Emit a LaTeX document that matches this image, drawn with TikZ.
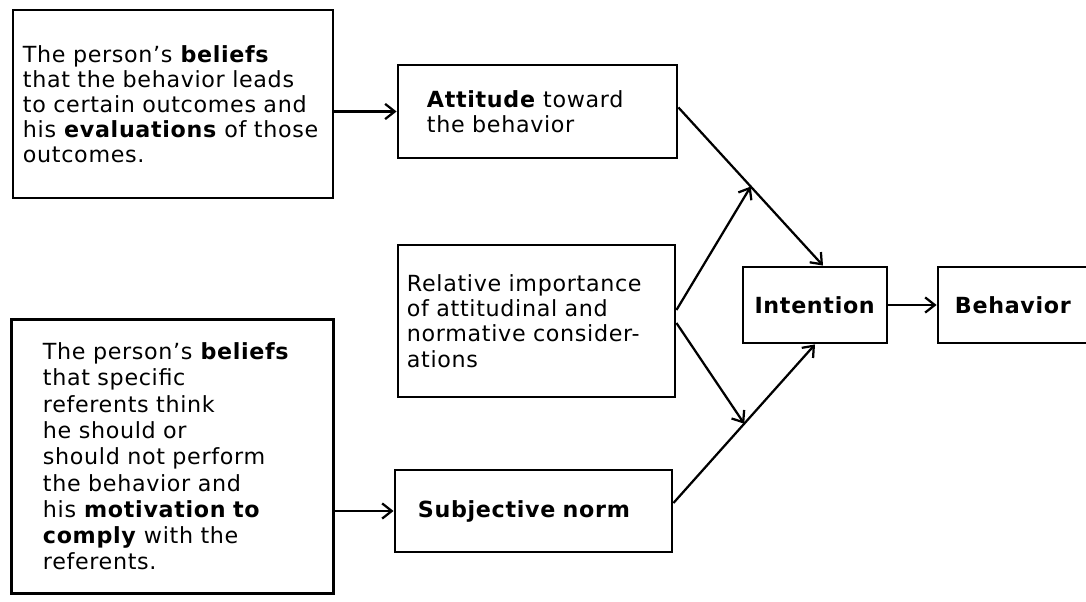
\documentclass[tikz,border=0pt]{standalone}
\usepackage{fontspec}
\setmainfont{DejaVu Sans}[LetterSpace=3]
\usetikzlibrary{positioning,arrows.meta,calc}

\tikzset{
  box/.style={draw,line width=2pt,inner sep=0pt,align=left,
              font=\fontsize{15.8}{17.8}\selectfont},
  link/.style={line width=1.6pt,-{Straight Barb[length=2.4mm,width=3.8mm]}},
}

\begin{document}
\begin{tikzpicture}[x=0.025cm,y=-0.025cm]
    \clip (0,0) rectangle (1086,602);
    % source boxes
    \node[box,minimum width=8cm,minimum height=4.7cm,text width=7.5cm]
      (beliefsA) at (173,104)
      {The person’s \textbf{beliefs}\\ that the behavior leads\\
       to certain outcomes and\\ \mbox{his \textbf{evaluations} of those}\\ outcomes.};
    \node[box,minimum width=8.03cm,minimum height=6.83cm,text width=6.475cm,
          font=\fontsize{15.8}{18.7}\selectfont]
      (beliefsB) at (172.5,456.5)
      {The person’s \textbf{beliefs}\\ that specific\\ referents think\\
       he should or\\ should not perform\\ the behavior and\\
       his \textbf{motivation to}\\ \textbf{comply} with the\\ referents.};
    % middle column
    \node[box,minimum width=6.975cm,minimum height=2.325cm,text width=5.525cm]
      (attitude) at (537.5,111.5) {\textbf{Attitude} toward\\ the behavior};
    \node[box,minimum width=6.925cm,minimum height=3.8cm,text width=6.475cm,
          font=\fontsize{15.8}{18}\selectfont]
      (relimp) at (536.5,321)
      {Relative importance\\ of attitudinal and\\ normative consider-\\ ations};
    \node[box,minimum width=6.925cm,minimum height=2.05cm,text width=5.775cm]
      (subjnorm) at (533.5,511) {\textbf{Subjective norm}};
    % outcome
    \node[box,align=center,minimum width=3.6cm,minimum height=1.9cm]
      (intention) at (815,305) {\textbf{Intention}};
    \node[box,minimum width=4.05cm,minimum height=1.9cm,text width=3.2cm]
      (behavior) at (1019,305) {\textbf{Behavior}};

    \coordinate (attOut) at ([yshift=0.1cm]attitude.east);
    \coordinate (intIn) at ([xshift=0.2cm]intention.north);
    \coordinate (subjOut) at ([yshift=0.2cm]subjnorm.east);
    \coordinate (joinA) at ($(attOut)!0.5!(intIn)$);
    \coordinate (joinB) at ($(subjOut)!0.5!(intention.south)$);

    \draw[link] (beliefsA.east |- attitude.west) -- (attitude.west);
    \draw[link] (beliefsB.east |- subjnorm.west) -- (subjnorm.west);
    \draw[link] (attOut) -- (intIn);
    \draw[link] (subjOut) -- (intention.south);
    \draw[link] ([yshift=0.275cm]relimp.east) -- (joinA);
    \draw[link] ([yshift=-0.05cm]relimp.east) -- (joinB);
    \draw[link] (intention.east) -- (behavior.west);
\end{tikzpicture}
\end{document}
